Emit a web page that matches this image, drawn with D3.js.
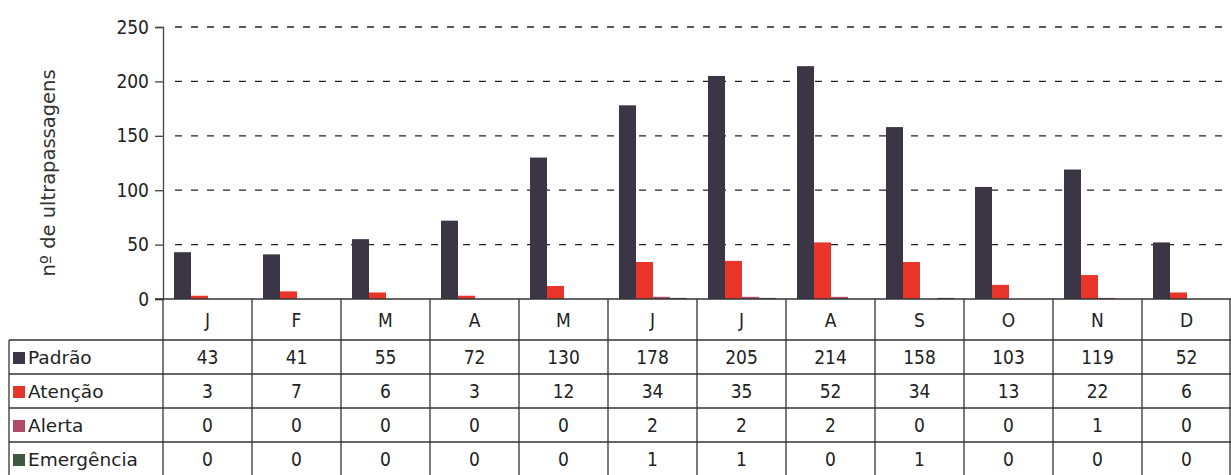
<!DOCTYPE html>
<html>
<head>
<meta charset="utf-8">
<script src="https://cdn.jsdelivr.net/npm/d3@7"></script>
<style>
  body { margin: 0; background: #fff; }
  svg { display: block; }
  .tick-label { font-family: "DejaVu Sans Condensed", "DejaVu Sans", sans-serif; font-size: 19px; fill: #222; }
  .cell { font-family: "DejaVu Sans Condensed", "DejaVu Sans", sans-serif; font-size: 19px; fill: #222; }
  .row-name { font-family: "DejaVu Sans", sans-serif; font-size: 18.5px; fill: #222; }
</style>
</head>
<body>
<svg id="chart" width="1231" height="475"></svg>
<script>
// ── Data ─────────────────────────────────────────────────────────────────────
const months     = ['J', 'F', 'M', 'A', 'M', 'J', 'J', 'A', 'S', 'O', 'N', 'D'];
const padrao     = [43, 41, 55, 72, 130, 178, 205, 214, 158, 103, 119, 52];
const atencao    = [3, 7, 6, 3, 12, 34, 35, 52, 34, 13, 22, 6];
const alerta     = [0, 0, 0, 0, 0, 2, 2, 2, 0, 0, 1, 0];
const emergencia = [0, 0, 0, 0, 0, 1, 1, 0, 1, 0, 0, 0];
const yTicks     = [0, 50, 100, 150, 200, 250];

const series = [
  { name: 'Padrão',     values: padrao,     color: '#3b3546' },
  { name: 'Atenção',    values: atencao,    color: '#e9342a' },
  { name: 'Alerta',     values: alerta,     color: '#b24a6c' },
  { name: 'Emergência', values: emergencia, color: '#3f5741' }
];

// ── Layout ───────────────────────────────────────────────────────────────────
const plotLeft = 163, plotRight = 1231, plotTop = 27, base = 299;
const headerH = 41, rowH = 34, labelLeft = 9;

const svg = d3.select('#chart');

const x0 = d3.scaleBand()
  .domain(d3.range(months.length))
  .range([plotLeft, plotRight])
  .padding(0);

const x1 = d3.scaleBand()
  .domain(series.map(s => s.name))
  .range([11, 11 + 4 * 17])
  .padding(0);

const y = d3.scaleLinear().domain([0, 250]).range([base, plotTop]);

// ── Grid + axis ──────────────────────────────────────────────────────────────
svg.append('g')
  .selectAll('line')
  .data(yTicks.filter(d => d > 0))
  .join('line')
  .attr('x1', plotLeft + 12).attr('x2', plotRight)
  .attr('y1', d => y(d)).attr('y2', d => y(d))
  .attr('stroke', '#222')
  .attr('stroke-width', 1.3)
  .attr('stroke-dasharray', '7,9');

const yAxis = svg.append('g')
  .attr('transform', `translate(${plotLeft},0)`)
  .call(d3.axisLeft(y).tickValues(yTicks).tickSize(8).tickPadding(6));
yAxis.attr('font-family', null).attr('font-size', null);
yAxis.select('.domain').attr('stroke', '#444').attr('stroke-width', 1.3);
yAxis.selectAll('.tick line').attr('stroke', '#444').attr('stroke-width', 1.3);
yAxis.selectAll('.tick text').attr('class', 'tick-label');

svg.append('text')
  .attr('transform', `translate(55,${(plotTop + base) / 2 + 10}) rotate(-90)`)
  .attr('text-anchor', 'middle')
  .attr('font-family', '"DejaVu Sans", sans-serif')
  .attr('font-size', 19.5)
  .attr('fill', '#333')
  .text('nº de ultrapassagens');

// ── Bars ─────────────────────────────────────────────────────────────────────
const groups = svg.append('g')
  .selectAll('g')
  .data(months.map((m, i) => i))
  .join('g')
  .attr('transform', i => `translate(${x0(i)},0)`);

groups.selectAll('rect')
  .data(i => series.map(s => ({ name: s.name, color: s.color, v: s.values[i] })))
  .join('rect')
  .attr('x', d => x1(d.name))
  .attr('width', x1.bandwidth())
  .attr('y', d => y(d.v))
  .attr('height', d => base - y(d.v))
  .attr('fill', d => d.color);

// ── Table ────────────────────────────────────────────────────────────────────
const tableTop = base, rowsTop = base + headerH;
const tableBottom = rowsTop + rowH * series.length;
const lineStyle = sel => sel.attr('stroke', '#333').attr('stroke-width', 1.3);

// baseline (x axis) spanning header
svg.append('line')
  .attr('x1', plotLeft - 8).attr('x2', plotRight)
  .attr('y1', base).attr('y2', base)
  .call(lineStyle);

// horizontal row lines
svg.append('g')
  .selectAll('line')
  .data(d3.range(series.length + 1))
  .join('line')
  .attr('x1', labelLeft).attr('x2', plotRight)
  .attr('y1', r => rowsTop + r * rowH).attr('y2', r => rowsTop + r * rowH)
  .call(lineStyle);

// vertical column lines
svg.append('g')
  .selectAll('line')
  .data(d3.range(months.length + 1))
  .join('line')
  .attr('x1', i => i < months.length ? x0(i) : plotRight - 1)
  .attr('x2', i => i < months.length ? x0(i) : plotRight - 1)
  .attr('y1', tableTop).attr('y2', tableBottom)
  .call(lineStyle);

svg.append('line')
  .attr('x1', labelLeft).attr('x2', labelLeft)
  .attr('y1', rowsTop).attr('y2', tableBottom)
  .call(lineStyle);

// month headers
svg.append('g')
  .selectAll('text')
  .data(months)
  .join('text')
  .attr('class', 'cell')
  .attr('x', (d, i) => x0(i) + x0.bandwidth() / 2)
  .attr('y', tableTop + headerH / 2 + 7)
  .attr('text-anchor', 'middle')
  .text(d => d);

// series rows
const rows = svg.append('g')
  .selectAll('g')
  .data(series)
  .join('g')
  .attr('transform', (d, r) => `translate(0,${rowsTop + r * rowH})`);

rows.append('rect')
  .attr('x', 13).attr('y', rowH / 2 - 5)
  .attr('width', 12).attr('height', 12)
  .attr('fill', d => d.color);

rows.append('text')
  .attr('class', 'row-name')
  .attr('x', 28).attr('y', rowH / 2 + 7)
  .text(d => d.name);

rows.selectAll('.val')
  .data(d => d.values)
  .join('text')
  .attr('class', 'cell val')
  .attr('x', (v, i) => x0(i) + x0.bandwidth() / 2)
  .attr('y', rowH / 2 + 7)
  .attr('text-anchor', 'middle')
  .text(v => v);
</script>
</body>
</html>
